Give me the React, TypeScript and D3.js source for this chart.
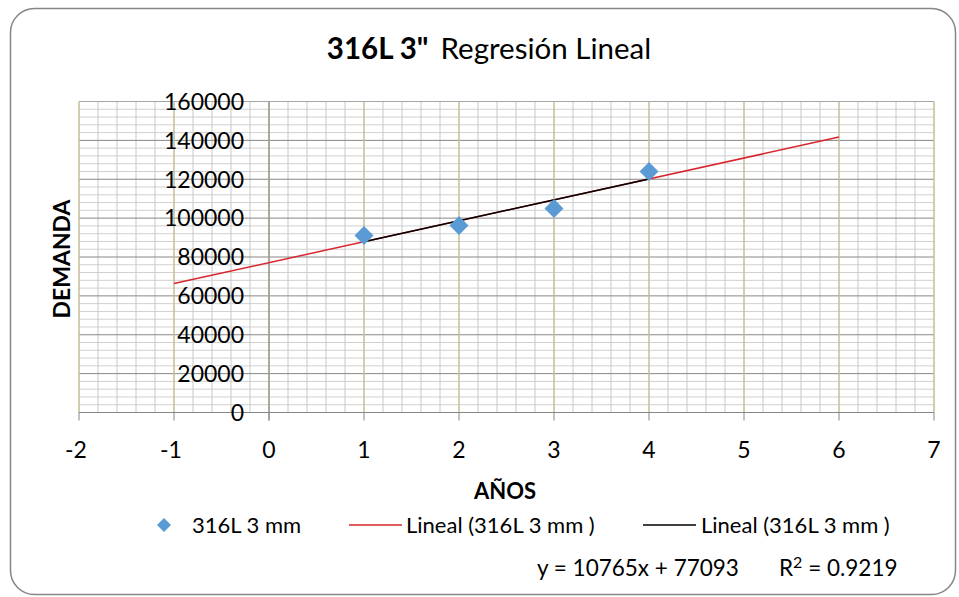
import React from "react";
import * as d3 from "d3";

const years = [1, 2, 3, 4];
const demand = [91100, 96200, 104900, 123950];
const xTicks = [-2, -1, 0, 1, 2, 3, 4, 5, 6, 7];
const yTicks = [0, 20000, 40000, 60000, 80000, 100000, 120000, 140000, 160000];
const slope = 10765;
const intercept = 77093;
const redRange = [-1, 6];
const blackRange = [1, 4];
const titleBold = '316L 3"';
const titleRest = "Regresión Lineal";
const seriesName = "316L 3 mm";
const trendName = "Lineal (316L 3 mm )";
const eqText = "y = 10765x + 77093";
const r2Text = "R² = 0.9219";

const W = 959;
const H = 597;
const FONT = "Lato, 'Open Sans', sans-serif";

export default function App() {
  const x = d3.scaleLinear().domain([-2, 7]).range([79, 934]);
  const y = d3.scaleLinear().domain([0, 160000]).range([412.5, 101.5]);
  const [x0, x1] = x.range();
  const [yb, yt] = y.range();

  const minorY = d3.range(0, 160001, 4000).filter((v) => v % 20000 !== 0);
  const minorX = d3.range(-2, 7.0001, 0.2).filter((v) => Math.abs(v - Math.round(v)) > 1e-6);

  const trend = (v: number) => slope * v + intercept;
  const line = d3
    .line<number>()
    .x((d) => x(d))
    .y((d) => y(trend(d)));

  const diamond = (cx: number, cy: number, r: number) =>
    `M${cx},${cy - r}L${cx + r},${cy}L${cx},${cy + r}L${cx - r},${cy}Z`;

  return (
    <svg
      width={W}
      height={H}
      style={{ position: "absolute", left: 0, top: 0, background: "#fff" }}
      fontFamily={FONT}
    >
      <rect x={10.5} y={8.5} width={945} height={586} rx={24} fill="#fff" stroke="#868686" strokeWidth={1.5} />

      {/* minor grid */}
      {minorY.map((v) => (
        <line key={"my" + v} x1={x0} x2={x1} y1={y(v)} y2={y(v)} stroke="#d0d0d0" strokeWidth={1} />
      ))}
      {minorX.map((v, i) => (
        <line key={"mx" + i} x1={x(v)} x2={x(v)} y1={yt} y2={yb} stroke="#c8c8c8" strokeWidth={1} />
      ))}
      {/* major horizontal */}
      {yTicks.map((v) => (
        <line key={"My" + v} x1={x0} x2={x1} y1={y(v)} y2={y(v)} stroke={v === 160000 ? "#a6a6a6" : "#878787"} strokeWidth={1} />
      ))}
      {/* major vertical */}
      {xTicks.map((v) => (
        <line key={"Mx" + v} x1={x(v)} x2={x(v)} y1={yt} y2={yb} stroke="#c4bd97" strokeWidth={1.5} />
      ))}

      {/* axes */}
      <line x1={x(0)} x2={x(0)} y1={yt} y2={yb + 8} stroke="#868686" strokeWidth={1} />
      <line x1={x0} x2={x1} y1={yb} y2={yb} stroke="#868686" strokeWidth={1} />
      {xTicks.map((v) => (
        <line key={"xt" + v} x1={x(v)} x2={x(v)} y1={yb} y2={yb + 8} stroke="#868686" strokeWidth={1} />
      ))}

      {/* tick labels */}
      {yTicks.map((v) => (
        <text key={"yl" + v} x={244} y={y(v)} dy="0.36em" textAnchor="end" fontSize={23} fill="#000">
          {v}
        </text>
      ))}
      {xTicks.map((v) => (
        <text key={"xl" + v} x={x(v) - (v < 0 ? 3 : 0)} y={458} textAnchor="middle" fontSize={23} fill="#000">
          {v < 0 ? "-" + Math.abs(v) : v}
        </text>
      ))}

      {/* trendlines */}
      <path d={line(redRange) || ""} fill="none" stroke="#d9262e" strokeWidth={1.5} />
      <path d={line(blackRange) || ""} fill="none" stroke="#000" strokeWidth={1.5} />

      {/* points */}
      {years.map((v, i) => (
        <path key={"p" + v} d={diamond(x(v), y(demand[i]), 9.5)} fill="#5b9bd5" />
      ))}

      {/* title */}
      <text x={489} y={59} textAnchor="middle" fontSize={29.5} fill="#000">
        <tspan fontWeight="bold">{titleBold}</tspan>
        <tspan dx={12}>{titleRest}</tspan>
      </text>

      {/* axis titles */}
      <text x={505} y={499} textAnchor="middle" fontSize={22} fontWeight="bold" fill="#000">
        AÑOS
      </text>
      <text transform={`translate(70,259) rotate(-90)`} textAnchor="middle" fontSize={23} fontWeight="bold" fill="#000">
        DEMANDA
      </text>

      {/* legend */}
      <path d={diamond(164, 525, 7)} fill="#5b9bd5" />
      <text x={192} y={533} fontSize={22} fill="#000">
        {seriesName}
      </text>
      <line x1={349} x2={402} y1={525} y2={525} stroke="#d9262e" strokeWidth={1.5} />
      <text x={406} y={533} fontSize={22} fill="#000">
        {trendName}
      </text>
      <line x1={643} x2={696} y1={525} y2={525} stroke="#000" strokeWidth={1.5} />
      <text x={701} y={533} fontSize={22} fill="#000">
        {trendName}
      </text>

      {/* equation */}
      <text x={537} y={576} fontSize={22.5} fill="#000">
        {eqText}
      </text>
      <text x={779} y={576} fontSize={22.5} fill="#000">
        R<tspan fontSize={16} dy={-8}>2</tspan>
        <tspan dy={8}> = 0.9219</tspan>
      </text>
    </svg>
  );
}
